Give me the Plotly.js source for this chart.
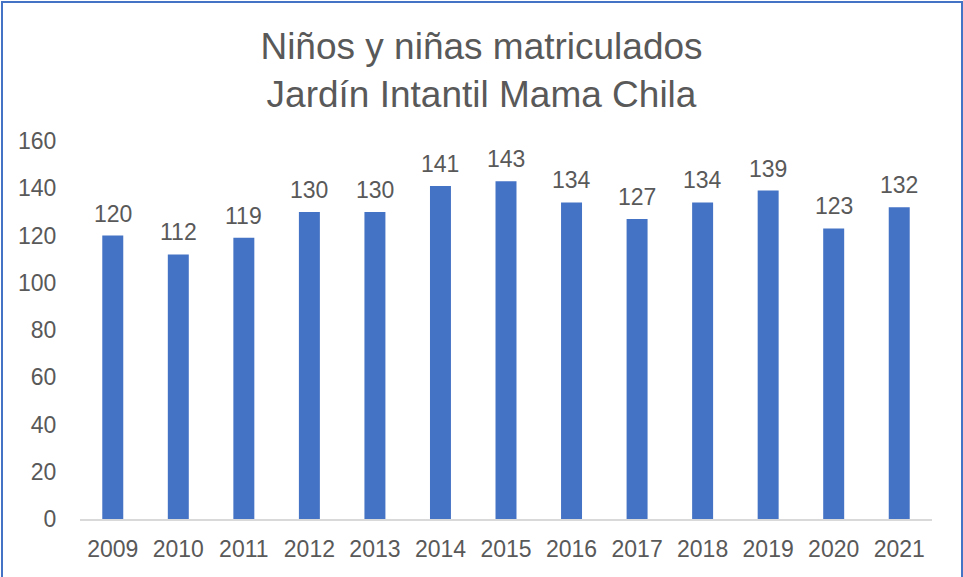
<!DOCTYPE html>
<html>
<head>
<meta charset="utf-8">
<script src="https://cdn.plot.ly/plotly-3.0.1.min.js"></script>
<style>
  html, body { margin: 0; padding: 0; background: #fff; overflow: hidden; }
  #wrap { position: relative; width: 963px; height: 577px; }
  #chart { width: 963px; height: 577px; }
  #frame { position: absolute; left: 1px; top: 1px; width: 958px; height: 600px;
           border-left: 2px solid #4472C4; border-top: 2px solid #4472C4; border-right: 2px solid #4472C4;
           pointer-events: none; }
</style>
</head>
<body>
<div id="wrap">
  <div id="chart"></div>
  <div id="frame"></div>
</div>
<script>
const years = ["2009","2010","2011","2012","2013","2014","2015","2016","2017","2018","2019","2020","2021"];
const enrolled = [120, 112, 119, 130, 130, 141, 143, 134, 127, 134, 139, 123, 132];
const yTicks = [0, 20, 40, 60, 80, 100, 120, 140, 160];

const font = "Liberation Sans, Arial, sans-serif";
const grey = "#595959";

const trace = {
  type: "bar",
  x: years,
  y: enrolled,
  marker: { color: "#4472C4", line: { width: 0 } },
  hoverinfo: "x+y"
};

// category axis: annotation x given as the category's index
const labels = years.map((yr, i) => ({
  x: i,
  y: enrolled[i],
  xref: "x",
  yref: "y",
  text: String(enrolled[i]),
  showarrow: false,
  yanchor: "bottom",
  xanchor: "center",
  yshift: 7,
  font: { family: font, size: 23, color: grey }
}));

const layout = {
  width: 963,
  height: 577,
  margin: { l: 80, r: 31, t: 141, b: 58 },
  paper_bgcolor: "#ffffff",
  plot_bgcolor: "#ffffff",
  bargap: 0.68,
  showlegend: false,
  annotations: labels,
  title: {
    text: "Niños y niñas matriculados<br>Jardín Intantil Mama Chila",
    font: { family: font, size: 37, color: grey },
    xref: "container", x: 0.5, xanchor: "center",
    yref: "container", y: 1 - 59 / 577, yanchor: "middle"
  },
  xaxis: {
    type: "category",
    categoryorder: "array",
    categoryarray: years,
    showgrid: false,
    zeroline: false,
    showline: true,
    linecolor: "#D9D9D9",
    linewidth: 2,
    ticks: "outside",
    ticklen: 8,
    tickcolor: "rgba(0,0,0,0)",
    tickfont: { family: font, size: 23, color: grey }
  },
  yaxis: {
    range: [0, 160],
    tickvals: yTicks,
    ticktext: yTicks.map(String),
    showgrid: false,
    zeroline: false,
    showline: false,
    ticks: "outside",
    ticklen: 18,
    tickcolor: "rgba(0,0,0,0)",
    tickfont: { family: font, size: 23, color: grey }
  }
};

Plotly.newPlot("chart", [trace], layout, { displayModeBar: false, staticPlot: true });
</script>
</body>
</html>
